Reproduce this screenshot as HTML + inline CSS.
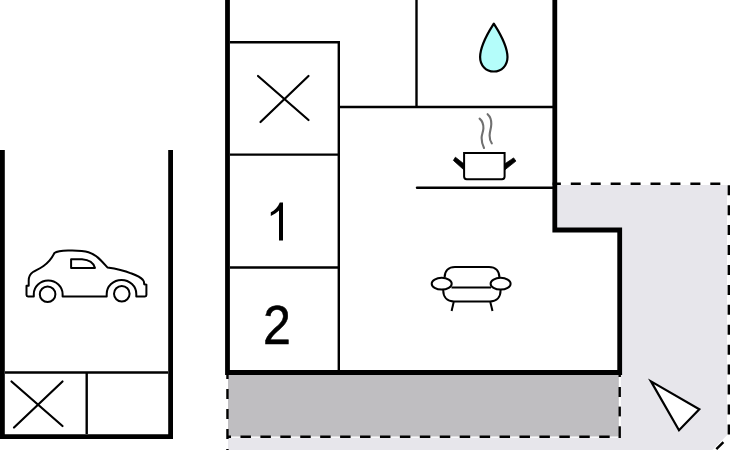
<!DOCTYPE html>
<html>
<head>
<meta charset="utf-8">
<style>
html,body{margin:0;padding:0;background:#fff;}
body{width:730px;height:450px;overflow:hidden;position:relative;}
svg{position:absolute;left:0;top:0;display:block;}
.num{position:absolute;font-family:"Liberation Sans",sans-serif;font-size:53px;color:#000;line-height:1;}
</style>
</head>
<body>
<svg width="730" height="450" viewBox="0 0 730 450">
  <!-- light gray outdoor area -->
  <polygon points="557,185 727,185 727,435.3 712.3,450 228,450 228,437.8 620.8,437.8 620.8,232 557,232" fill="#e7e6eb"/>
  <!-- dark gray terrace -->
  <rect x="228" y="374" width="390.8" height="62.5" fill="#bfbec1"/>

  <!-- dashed outlines -->
  <g fill="none" stroke="#000" stroke-width="2.4">
    <path d="M552.6,183.8 H728.8 V436.7 L713.3,452.2" stroke-dasharray="10 9.93" stroke-dashoffset="1.73"/>
    <line x1="227.45" y1="369.1" x2="227.45" y2="460" stroke-dasharray="10 9.98"/>
    <line x1="227.45" y1="436.8" x2="619.7" y2="436.8" stroke-dasharray="10.5 9.43" stroke-dashoffset="6.93"/>
    <line x1="619.7" y1="367" x2="619.7" y2="377" />
    <line x1="619.7" y1="387" x2="619.7" y2="397" />
    <line x1="619.7" y1="406.6" x2="619.7" y2="416.4" />
    <line x1="619.7" y1="426.3" x2="619.7" y2="438" />
  </g>

  <!-- thick walls -->
  <g fill="none" stroke="#000" stroke-width="4.8" stroke-linecap="square">
    <!-- garage -->
    <polyline points="2.4,152.5 2.4,436.6 170.6,436.6 170.6,152.5"/>
    <!-- main -->
    <polyline points="227.5,0 227.5,372.5 619.7,372.5 619.7,230 554.8,230 554.8,0"/>
  </g>

  <!-- thin lines -->
  <g fill="none" stroke="#000" stroke-width="2.4">
    <line x1="5" y1="372.5" x2="168" y2="372.5"/>
    <line x1="86.7" y1="372.5" x2="86.7" y2="434"/>
    <line x1="230" y1="42.2" x2="340" y2="42.2"/>
    <line x1="338.8" y1="41" x2="338.8" y2="371"/>
    <line x1="230" y1="154.6" x2="338" y2="154.6"/>
    <line x1="230" y1="267.5" x2="338" y2="267.5"/>
    <line x1="338" y1="107" x2="553" y2="107"/>
    <line x1="416.5" y1="0" x2="416.5" y2="107"/>
    <line x1="417" y1="187.8" x2="553" y2="187.8" stroke-linecap="round"/>
  </g>

  <!-- X marks -->
  <g fill="none" stroke="#000" stroke-width="2.2" stroke-linecap="round">
    <line x1="11.5" y1="381.5" x2="62.5" y2="426"/>
    <line x1="62.5" y1="381.5" x2="14" y2="427.5"/>
    <line x1="258" y1="76" x2="308.5" y2="120"/>
    <line x1="308.5" y1="76" x2="260.5" y2="122"/>
  </g>

  <!-- car -->
  <g fill="none" stroke="#000" stroke-width="2" stroke-linejoin="round">
    <path d="M54.4,253 C57,251.3 62,250.8 68,250.6 C76,250.4 84,250.8 88.5,252.2 C94,254 98,257 101.5,261 L107.4,267.4 C116,268.6 124,270.4 131,273.3 C137,275.6 141,277.6 143,280 Q144.2,281 144.2,284.2 L146.4,284.8 L146.4,295 Q146.4,296.4 145,296.4 L136.3,296.4 L136.3,294 A14.8,14 0 0 0 106.7,294 L106.7,296.4 L62.6,296.4 L62.6,294 A14.4,13.5 0 0 0 33.8,294 L33.8,296.4 L28,296.4 Q26.5,296.4 26.5,295 L26.5,285.8 L28.7,285.8 L28.7,280.5 C28.7,276 30,274 33,272 C36,270.3 40,268.5 43.5,266 C48.5,262.5 52,258 54.4,253 Z"/>
    <circle cx="47.6" cy="294.2" r="7.8"/>
    <circle cx="121.8" cy="293.8" r="7.8"/>
    <path d="M71.1,259.2 L82,259.2 C88,259.6 93.5,262.5 95,267.9 L71.1,267.9 Z"/>
  </g>

  <!-- water drop -->
  <path d="M493.8,23.6 C489.5,30.5 480.3,44 480.1,57 C480.1,65.5 486,71.5 493.8,71.5 C501.6,71.5 507.5,65.5 507.5,57 C507.3,44 498.1,30.5 493.8,23.6 Z" fill="#b4fdfa" stroke="#000" stroke-width="2.2" stroke-linejoin="round"/>

  <!-- pot -->
  <g fill="none" stroke="#000">
    <path d="M464.1,153 L504.6,153 L504.6,176.6 Q504.6,179.3 502,179.3 L466.7,179.3 Q464.1,179.3 464.1,176.6 Z" stroke-width="2"/>
    <polygon points="455.4,157.2 463.8,163.8 463.8,169.8 453.4,160.4" fill="#000" stroke="#000" stroke-width="0.8" stroke-linejoin="round"/>
    <polygon points="513.6,157.9 515.9,161.1 504.9,169.8 504.9,163.8" fill="#000" stroke="#000" stroke-width="0.8" stroke-linejoin="round"/>
  </g>
  <g fill="none" stroke="#707070" stroke-width="2.1" stroke-linecap="round">
    <path d="M479.6,118.6 C482.5,121 483.6,124 483.4,128.5 C483.2,132 481.6,134.5 481.6,138 C481.6,142 482.5,145 484,148"/>
    <path d="M487.6,114.2 C490.2,116.5 491.4,119.5 491.3,124 C491.2,128.5 489.6,131.5 489.6,135.5 C489.6,139 490.4,141.5 491.8,143.4"/>
  </g>

  <!-- sofa -->
  <g fill="none" stroke="#000" stroke-width="2">
    <path d="M444.6,277.5 C444.6,271 448.5,267 455,267 L489,267 C495.5,267 499.4,271 499.4,277.5"/>
    <line x1="451.5" y1="287.4" x2="491" y2="287.4"/>
    <path d="M443.2,290 C443.2,297 447,301.5 454,301.5 L490,301.5 C497,301.5 500.6,297 500.6,290"/>
    <ellipse cx="441.7" cy="283.7" rx="10" ry="5.9"/>
    <ellipse cx="500.6" cy="283.7" rx="10" ry="5.9"/>
    <line x1="453.7" y1="302" x2="451.6" y2="311"/>
    <line x1="490.3" y1="302" x2="492.5" y2="311"/>
  </g>

  <!-- digit 1 -->
  <path d="M283,202.4 L283,240.6 L279,240.6 L279,210.6 C277,212.8 273.8,214.8 270.8,215.9 L270.8,212.2 C274.5,210.6 278,207 279.8,202.4 Z" fill="#000"/>
  <!-- compass triangle -->
  <polygon points="651,381.4 699.3,409.3 679,430.2" fill="#fff" stroke="#000" stroke-width="2.2" stroke-linejoin="miter"/>
</svg>
<div class="num" style="left:262.7px;top:297.5px;font-size:55px;transform:scaleX(0.91);transform-origin:0 0;-webkit-text-stroke:0.6px #000;">2</div>
</body>
</html>
